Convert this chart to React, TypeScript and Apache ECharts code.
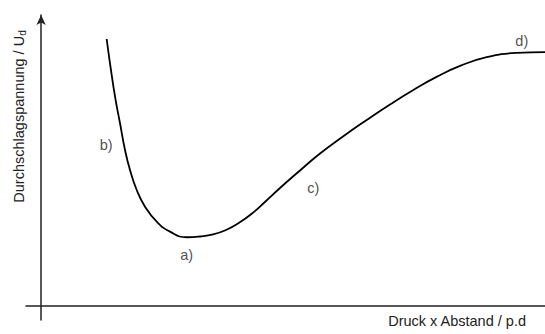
import React, { useEffect, useRef } from "react";
import * as echarts from "echarts";

// Paschen-type breakdown curve: breakdown voltage over pressure x gap distance (arbitrary units)
const pdValues = [
  13.01, 13.67, 14.67, 15.66, 16.65, 17.64, 18.97, 20.62, 22.94, 25.58,
  28.9, 31.54, 34.12, 36.7, 39.08, 41.86, 44.63, 47.41, 51.38, 55.35,
  59.91, 64.62, 69.24, 73.87, 78.57, 83.14, 88.43, 94.39, 100,
];
const udValues = [
  91.74, 83.38, 71.88, 62.72, 53.53, 46.65, 39.76, 34.01, 28.85, 25.41,
  23.48, 23.75, 24.44, 25.99, 28.23, 31.67, 35.98, 40.45, 46.47, 52.33,
  58.18, 63.86, 69.2, 74.19, 78.77, 82.48, 85.51, 86.96, 87.24,
];

// Region markers along the curve
const markerNames = ["a)", "b)", "c)", "d)"];
const markerPd = [28.9, 12.9, 54.0, 95.4];
const markerUd = [17.4, 55.3, 40.3, 91.1];

const FONT = "'Liberation Sans', Arial, sans-serif";
const INK = "#222";
const SIZE = 14.5;

export default function App() {
  const ref = useRef<HTMLDivElement>(null);

  useEffect(() => {
    if (!ref.current) return;
    const chart = echarts.init(ref.current, null, { renderer: "svg" });

    const curve = pdValues.map((x, i) => [x, udValues[i]]);
    const markers = markerNames.map((n, i) => ({ name: n, value: [markerPd[i], markerUd[i]] }));

    chart.setOption({
      animation: false,
      backgroundColor: "#fff",
      grid: { left: 26, right: 0, top: 15, bottom: 14, outerBoundsMode: "none" },
      xAxis: {
        type: "value",
        min: -3,
        max: 100,
        name: "Druck x Abstand / p.d",
        nameLocation: "end",
        nameGap: -19,
        nameTextStyle: {
          fontFamily: FONT,
          fontSize: SIZE,
          color: INK,
          align: "right",
          verticalAlign: "top",
          padding: [8, 0, 0, 0],
        },
        axisLine: { onZero: true, lineStyle: { color: INK, width: 1.5 } },
        axisTick: { show: false },
        axisLabel: { show: false },
        splitLine: { show: false },
      },
      yAxis: {
        type: "value",
        min: -5,
        max: 100,
        name: "{m|Durchschlagspannung / U}{s|d}",
        nameLocation: "middle",
        nameRotate: 90,
        nameGap: -1,
        nameTextStyle: {
          padding: [0, 0, 0, 102],
          rich: {
            m: { fontFamily: FONT, fontSize: SIZE, color: INK, lineHeight: 16, verticalAlign: "middle" },
            s: { fontFamily: FONT, fontSize: 10, color: INK, lineHeight: 10, verticalAlign: "bottom", padding: [14, 0, 0, 0] },
          },
        },
        axisLine: {
          onZero: true,
          symbol: ["none", "arrow"],
          symbolSize: [7, 10],
          lineStyle: { color: INK, width: 1.5 },
        },
        axisTick: { show: false },
        axisLabel: { show: false },
        splitLine: { show: false },
      },
      series: [
        {
          type: "line",
          data: curve,
          smooth: 0.5,
          showSymbol: false,
          silent: true,
          lineStyle: { color: "#000", width: 1.8 },
        },
        {
          type: "scatter",
          data: markers,
          symbolSize: 1,
          silent: true,
          itemStyle: { color: "transparent" },
          label: {
            show: true,
            position: "inside",
            formatter: "{b}",
            fontFamily: FONT,
            fontSize: SIZE,
            color: INK,
          },
        },
      ],
    });

    return () => chart.dispose();
  }, []);

  return (
    <div
      ref={ref}
      style={{ position: "fixed", left: 0, top: 0, width: 545, height: 334 }}
    />
  );
}
